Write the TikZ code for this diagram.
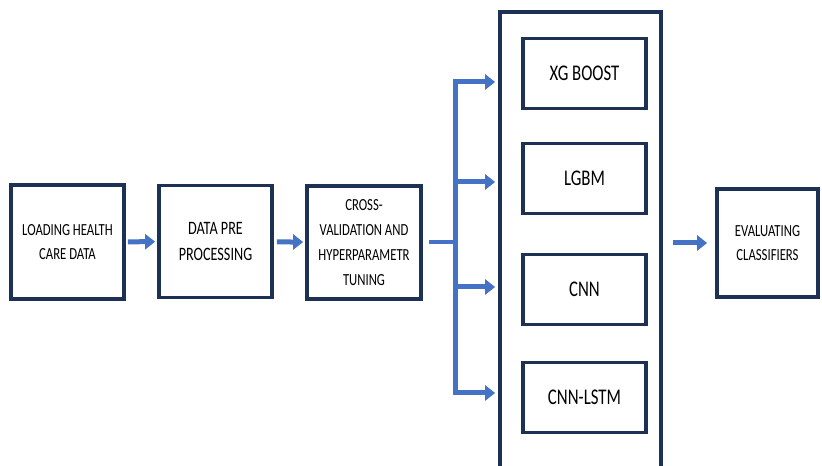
\documentclass[tikz,border=0pt]{standalone}
\usepackage{fontspec}
\setmainfont[FakeStretch=0.75]{Carlito}
\usepackage{tikz}
\usetikzlibrary{arrows.meta}
\usetikzlibrary{positioning}
\definecolor{navy}{HTML}{1D3155}
\definecolor{flowblue}{HTML}{4472C4}

\tikzset{
  box/.style={draw=navy, line width=3.75bp, fill=white, align=center, inner sep=0pt},
  stagebox/.style={box, font=\fontsize{17}{23.5}\selectfont},
  modelbox/.style={box, minimum width=123bp, minimum height=70bp, font=\fontsize{22.5}{27}\selectfont},
  flow/.style={draw=flowblue, line width=5bp, -{Triangle[length=10bp,width=15bp]}},
  branch/.style={draw=flowblue, line width=4.5bp}
}

\begin{document}
\begin{tikzpicture}[x=1bp, y=1bp]
  \useasboundingbox (0,0) rectangle (822,466);

  % Define nodes
  \node[stagebox, minimum width=113bp, minimum height=114bp] (load) at (67.5,224) {LOADING HEALTH\\CARE DATA};
  \node[stagebox, minimum width=113bp, minimum height=112bp, font=\fontsize{19}{26}\selectfont] (prep) at (215.5,224.5) {DATA PRE\\PROCESSING};
  \node[stagebox, minimum width=114bp, minimum height=113bp, font=\fontsize{17}{25}\selectfont] (cv) at (364,223.5) {CROSS-\\VALIDATION AND\\HYPERPARAMETR\\TUNING};
  \node[box, minimum width=161bp, minimum height=484bp] (models) at (580.5,212) {};
  \node[modelbox] (xg) at (584.5,392.5) {XG BOOST};
  \node[modelbox] (lgbm) at (584.5,287.5) {LGBM};
  \node[modelbox] (cnn) at (584.5,176.5) {CNN};
  \node[modelbox] (cnnlstm) at (584.5,68.5) {CNN-LSTM};
  \node[stagebox, minimum width=101bp, minimum height=108bp] (eval) at (767.5,223) {EVALUATING\\CLASSIFIERS};
  \coordinate (split) at (455,224);

  % Connect the nodes
  \draw[flow, shorten <=2bp, shorten >=2bp] (load) -- (prep);
  \draw[flow, shorten <=3bp, shorten >=2bp] (prep) -- (cv);
  \draw[branch, shorten <=6bp] (cv.east |- split) -- (split);
  \foreach \m/\d in {xg/-8.5, lgbm/-3.5, cnn/2.5, cnnlstm/4.5}
    \draw[flow, shorten >=3bp] (split) |- ([yshift=\d bp]\m.west -| models.west);
  \draw[flow, shorten <=10bp, shorten >=8bp] (models.east |- eval.west) -- (eval.west);

\end{tikzpicture}
\end{document}
